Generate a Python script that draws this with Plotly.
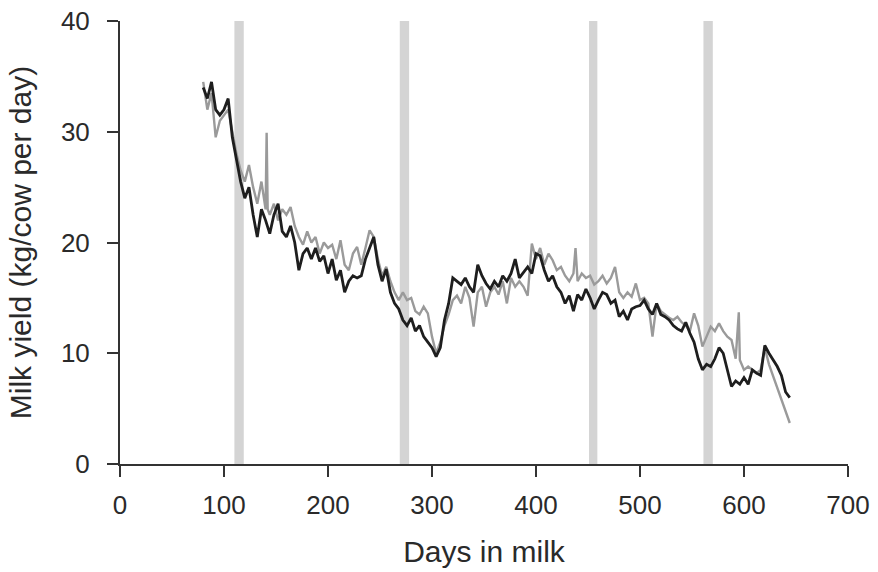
import plotly.graph_objects as go

# Observation periods (shaded bands), days in milk
band_start = [110, 269, 451, 561]
band_end = [119, 278, 459, 570]

# Series 1 (black)
days_black = [80, 84, 88, 92, 96, 100, 104, 108, 112, 116, 120, 124, 128, 132, 136, 140, 144, 148, 152, 156,
              160, 164, 168, 172, 176, 180, 184, 188, 192, 196, 200, 204, 208, 212, 216, 220, 224, 228, 232, 236,
              240, 244, 248, 252, 256, 260, 264, 268, 272, 276, 280, 284, 288, 292, 296, 300, 304, 308, 312, 316,
              320, 324, 328, 332, 336, 340, 344, 348, 352, 356, 360, 364, 368, 372, 376, 380, 384, 388, 392, 396,
              400, 404, 408, 412, 416, 420, 424, 428, 432, 436, 440, 444, 448, 452, 456, 460, 464, 468, 472, 476,
              480, 484, 488, 492, 496, 500, 504, 508, 512, 516, 520, 524, 528, 532, 536, 540, 544, 548, 552, 556,
              560, 564, 568, 572, 576, 580, 584, 588, 592, 596, 600, 604, 608, 612, 616, 620, 624, 628, 632, 636,
              640, 644]
yield_black = [34.0, 33.0, 34.5, 32.0, 31.5, 32.0, 33.0, 29.5, 27.5, 25.5, 24.0, 25.0, 22.5, 20.5, 23.0, 22.0, 20.8, 22.5, 23.5, 21.0,
               20.5, 21.5, 20.0, 17.5, 19.0, 19.5, 18.5, 19.5, 18.3, 18.8, 17.2, 18.5, 16.6, 17.5, 15.5, 16.5, 17.0, 16.8, 17.0, 18.5,
               19.5, 20.5, 18.0, 16.5, 17.6, 15.5, 14.5, 14.0, 13.0, 12.5, 13.2, 12.0, 12.5, 11.5, 11.0, 10.5, 9.7, 10.5, 13.0, 14.5,
               16.8, 16.5, 16.2, 16.8, 16.0, 15.5, 18.0, 17.0, 16.3, 15.8, 16.5, 16.0, 17.0, 16.5, 17.2, 18.5, 16.8, 17.3, 17.8, 17.2,
               19.0, 18.8, 17.5, 16.5, 17.0, 16.0, 15.5, 14.5, 15.2, 13.8, 15.3, 14.8, 15.8, 15.0, 14.0, 14.8, 15.5, 15.3, 14.5, 14.8,
               13.3, 13.8, 13.0, 14.0, 14.2, 14.3, 14.8, 14.0, 13.5, 14.5, 13.5, 13.3, 13.0, 12.5, 12.2, 12.0, 12.8, 11.8, 11.0, 9.5,
               8.5, 9.0, 8.8, 9.5, 10.5, 10.0, 8.5, 7.0, 7.5, 7.2, 7.8, 7.2, 8.5, 8.2, 8.0, 10.7, 10.0, 9.4, 8.8, 8.0,
               6.5, 6.0]

# Series 2 (grey)
days_grey = [80, 84, 88, 92, 96, 100, 104, 108, 112, 116, 120, 124, 128, 132, 136, 140, 141, 142, 144, 148,
             152, 156, 160, 164, 168, 172, 176, 180, 184, 188, 192, 196, 200, 204, 208, 212, 216, 220, 224, 228,
             232, 236, 240, 244, 248, 252, 256, 260, 264, 268, 272, 276, 280, 284, 288, 292, 296, 300, 304, 308,
             312, 316, 320, 324, 328, 332, 336, 340, 344, 348, 352, 356, 360, 364, 368, 372, 376, 380, 384, 388,
             392, 396, 400, 404, 408, 412, 416, 420, 424, 428, 432, 436, 438, 440, 444, 448, 452, 456, 460, 464,
             468, 472, 476, 480, 484, 488, 492, 496, 500, 504, 508, 512, 516, 520, 524, 528, 532, 536, 540, 544,
             548, 552, 556, 560, 564, 568, 572, 576, 580, 584, 588, 592, 595, 596, 600, 604, 608, 612, 616, 620,
             624, 628, 632, 636, 640, 644]
yield_grey = [34.5, 32.0, 33.5, 29.5, 31.0, 31.5, 32.0, 30.0, 28.0, 26.5, 25.5, 27.0, 25.0, 23.5, 25.5, 23.0, 29.9, 23.0, 22.5, 23.5,
              22.0, 23.0, 22.5, 23.2, 21.5, 20.5, 19.8, 21.0, 20.0, 20.5, 19.0, 20.0, 19.5, 19.8, 18.5, 20.2, 18.0, 17.5, 19.0, 19.6,
              18.0, 19.5, 21.1, 20.5, 18.5, 17.0, 17.8, 16.5, 15.5, 14.8, 15.5, 14.8, 15.0, 13.8, 13.5, 14.2, 13.6, 11.5, 10.0, 11.0,
              12.5, 13.5, 14.8, 15.2, 14.5, 16.0, 15.0, 12.4, 15.5, 16.0, 14.2, 15.5, 16.0, 15.3, 16.5, 14.5, 16.8, 16.0, 16.5, 16.0,
              15.2, 19.9, 18.5, 19.5, 18.0, 19.0, 18.4, 17.5, 17.8, 17.0, 16.5, 17.2, 19.5, 16.5, 17.2, 16.8, 17.0, 16.2, 16.5, 17.0,
              16.3, 16.8, 17.8, 15.5, 15.0, 15.5, 15.1, 16.3, 14.8, 15.0, 14.5, 11.5, 14.5, 13.8, 13.5, 13.2, 13.0, 13.3, 12.8, 12.5,
              12.0, 13.6, 12.5, 10.6, 11.5, 12.4, 12.0, 12.7, 12.0, 11.5, 11.2, 9.5, 13.7, 9.4, 8.5, 8.8, 8.5, 8.2, 8.5, 10.5,
              9.0, 7.9, 7.0, 5.8, 4.8, 3.7]

x_ticks = [0, 100, 200, 300, 400, 500, 600, 700]
y_ticks = [0, 10, 20, 30, 40]

fig = go.Figure()

for s, e in zip(band_start, band_end):
    fig.add_vrect(x0=s, x1=e, fillcolor="#d4d4d4", line_width=0, layer="below", opacity=1)

fig.add_trace(go.Scatter(x=days_grey, y=yield_grey, mode="lines",
                         line=dict(color="#9a9a9a", width=2.4), showlegend=False))
fig.add_trace(go.Scatter(x=days_black, y=yield_black, mode="lines",
                         line=dict(color="#1e1e1e", width=2.8), showlegend=False))

axis_common = dict(showline=True, linecolor="#333333", linewidth=2, ticks="outside",
                   ticklen=11, tickwidth=2, tickcolor="#333333", showgrid=False, zeroline=False,
                   automargin=False,
                   tickfont=dict(family="Liberation Sans, Arial", size=26, color="#2a2a2a"))

fig.update_xaxes(range=[0, 700], tickvals=x_ticks, ticktext=[str(v) for v in x_ticks],
                 title=dict(text="Days in milk", font=dict(family="Liberation Sans, Arial", size=30, color="#2a2a2a"),
                            standoff=22),
                 ticklabelstandoff=6, **axis_common)
fig.update_yaxes(range=[0, 40], tickvals=y_ticks, ticktext=[str(v) for v in y_ticks],
                 title=dict(text="Milk yield (kg/cow per day)", font=dict(family="Liberation Sans, Arial", size=30, color="#2a2a2a"),
                            standoff=20),
                 ticklabelstandoff=12, **axis_common)

fig.update_layout(width=878, height=572, margin=dict(l=120, r=30, t=21, b=108),
                  plot_bgcolor="white", paper_bgcolor="white")

fig.write_html("out.html")
